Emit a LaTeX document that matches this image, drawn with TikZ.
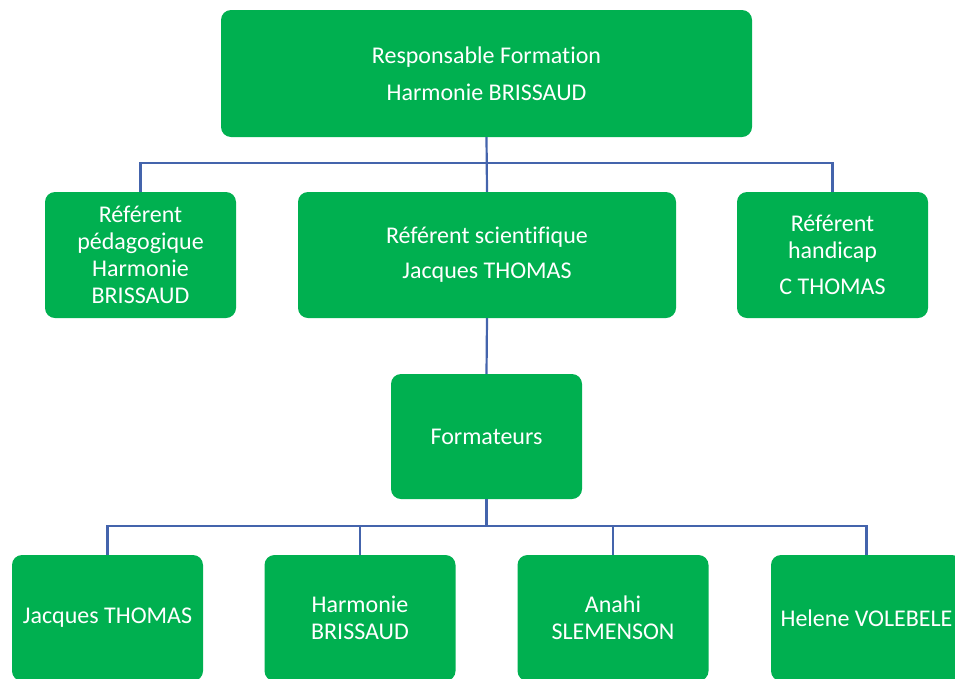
\documentclass[tikz,border=0pt]{standalone}
\usepackage{fontspec}
\setmainfont[Ligatures=NoCommon]{Carlito}
\usepackage{tikz}
\usepackage{color}

\definecolor{orggreen}{HTML}{00B050}
\definecolor{orgblue}{HTML}{4464AC}

\begin{document}
\begin{tikzpicture}[%
      x=1pt, y=-1pt,
      box/.style={fill=orggreen, draw=none, rounded corners=10pt, text=white,
        align=center, inner sep=0pt, font=\fontsize{24}{27}\selectfont},
      link/.style={draw=orgblue, line width=2.2pt},
      ]
      \useasboundingbox (0,0) rectangle (955,678);
      \clip (0,0) rectangle (955,678);

      \node [box, minimum width=531pt, minimum height=127pt] (resp) at (486.5,73.5)
            {Responsable Formation\\[10pt]Harmonie BRISSAUD};

      \node [box, minimum width=191pt, minimum height=126pt] (peda) at (140.5,255)
            {Référent\\pédagogique\\Harmonie\\BRISSAUD};
      \node [box, minimum width=378pt, minimum height=126pt] (scient) at (487,255)
            {Référent scientifique\\[8pt]Jacques THOMAS};
      \node [box, minimum width=191pt, minimum height=126pt] (handi) at (832.5,255)
            {Référent\\handicap\\[9pt]C THOMAS};

      \node [box, minimum width=191pt, minimum height=125pt] (form) at (486.5,436.5)
            {Formateurs};

      \node [box, minimum width=191pt, minimum height=126pt] (jacques) at (107.5,618)
            {Jacques THOMAS};
      \node [box, minimum width=191pt, minimum height=126pt] (harmonie) at (360,618)
            {Harmonie\\BRISSAUD};
      \node [box, minimum width=191pt, minimum height=126pt] (anahi) at (613,618)
            {Anahi\\SLEMENSON};
      \node [box, minimum width=191pt, minimum height=126pt] (helene) at (866.5,618)
            {Helene VOLEBELE};

      \coordinate (bar1) at (486.5,163);
      \coordinate (bar2) at (486.5,526);

      \draw [link] (resp.south) -- (scient.north);
      \draw [link] (peda.north) |- (bar1) -| (handi.north);
      \draw [link] (scient.south) -- (form.north);
      \draw [link] (form.south) -- (bar2);
      \draw [link] (jacques.north) |- (bar2) -| (helene.north);
      \draw [link] (harmonie.north) -- (harmonie.north |- bar2);
      \draw [link] (anahi.north) -- (anahi.north |- bar2);
\end{tikzpicture}
\end{document}
